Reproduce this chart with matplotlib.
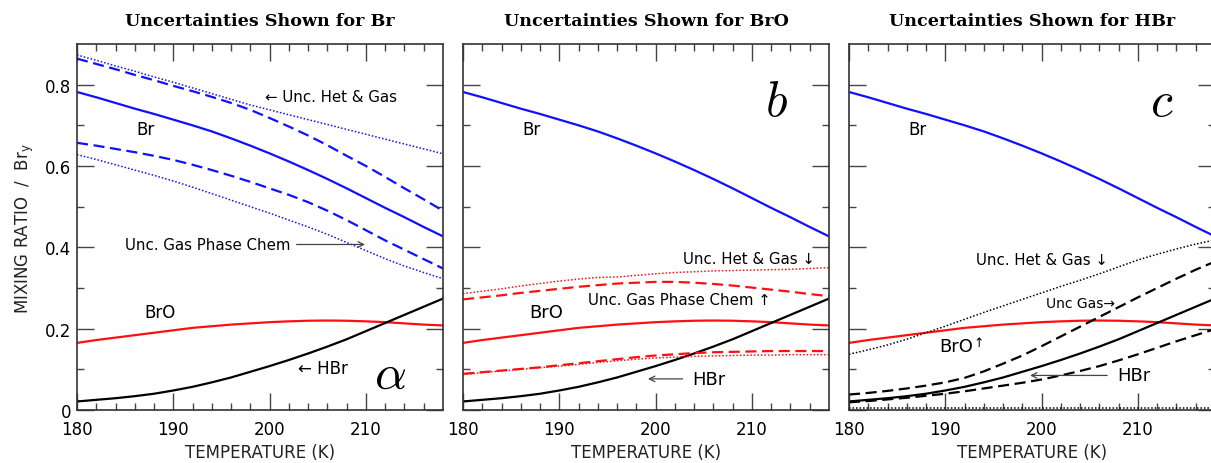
import numpy as np
import matplotlib.pyplot as plt

plt.rcParams['font.family'] = ['DejaVu Sans']
plt.rcParams['mathtext.fontset'] = 'cm'

# temperature grid (K)
temp = [180, 182, 184, 186, 188, 190, 192, 194, 196, 198,
        200, 202, 204, 206, 208, 210, 212, 214, 216, 218]

# base case
br = [0.782, 0.769, 0.755, 0.741, 0.728, 0.714, 0.700, 0.685, 0.668, 0.650,
      0.631, 0.611, 0.590, 0.568, 0.545, 0.521, 0.497, 0.474, 0.450, 0.427]
bro = [0.165, 0.172, 0.178, 0.184, 0.190, 0.196, 0.202, 0.206, 0.210, 0.213,
       0.216, 0.218, 0.2195, 0.220, 0.2195, 0.218, 0.216, 0.213, 0.210, 0.208]
hbr = [0.021, 0.025, 0.029, 0.034, 0.040, 0.048, 0.057, 0.068, 0.080, 0.094,
       0.108, 0.123, 0.139, 0.156, 0.174, 0.194, 0.214, 0.234, 0.254, 0.274]

# panel a: Br uncertainties
br_gas_hi = [0.864, 0.851, 0.838, 0.824, 0.811, 0.797, 0.784, 0.770, 0.755, 0.738,
             0.718, 0.697, 0.675, 0.651, 0.625, 0.600, 0.573, 0.545, 0.518, 0.490]
br_gas_lo = [0.657, 0.650, 0.642, 0.634, 0.625, 0.615, 0.603, 0.590, 0.576, 0.561,
             0.545, 0.529, 0.511, 0.490, 0.467, 0.442, 0.417, 0.394, 0.371, 0.348]
br_het_hi = [0.873, 0.860, 0.846, 0.833, 0.819, 0.806, 0.792, 0.778, 0.764, 0.750,
             0.738, 0.726, 0.714, 0.702, 0.690, 0.678, 0.666, 0.654, 0.642, 0.630]
br_het_lo = [0.628, 0.616, 0.603, 0.590, 0.577, 0.563, 0.548, 0.532, 0.516, 0.500,
             0.484, 0.467, 0.450, 0.432, 0.412, 0.392, 0.372, 0.354, 0.338, 0.323]

# panel b: BrO uncertainties
bro_gas_hi = [0.272, 0.277, 0.282, 0.288, 0.293, 0.298, 0.303, 0.307, 0.311, 0.313,
              0.315, 0.315, 0.313, 0.310, 0.306, 0.301, 0.296, 0.291, 0.285, 0.280]
bro_gas_lo = [0.089, 0.093, 0.097, 0.101, 0.105, 0.110, 0.115, 0.120, 0.125, 0.130,
              0.134, 0.137, 0.140, 0.142, 0.143, 0.144, 0.145, 0.145, 0.145, 0.145]
bro_het_hi = [0.286, 0.292, 0.298, 0.305, 0.311, 0.317, 0.322, 0.326, 0.327, 0.331,
              0.335, 0.338, 0.340, 0.342, 0.343, 0.344, 0.345, 0.346, 0.348, 0.350]
bro_het_lo = [0.087, 0.092, 0.096, 0.100, 0.104, 0.108, 0.112, 0.117, 0.121, 0.125,
              0.128, 0.130, 0.132, 0.133, 0.134, 0.135, 0.135, 0.136, 0.136, 0.136]

# panel c: HBr uncertainties
hbr_gas_hi = [0.038, 0.042, 0.047, 0.053, 0.060, 0.068, 0.079, 0.095, 0.114, 0.134,
              0.157, 0.181, 0.205, 0.229, 0.253, 0.277, 0.300, 0.323, 0.345, 0.365]
hbr_gas_lo = [0.019, 0.022, 0.026, 0.030, 0.035, 0.040, 0.046, 0.053, 0.060, 0.067,
              0.075, 0.085, 0.096, 0.108, 0.122, 0.137, 0.153, 0.169, 0.184, 0.199]
hbr_het_hi = [0.137, 0.148, 0.160, 0.174, 0.190, 0.206, 0.223, 0.240, 0.256, 0.272,
              0.288, 0.304, 0.319, 0.335, 0.352, 0.369, 0.383, 0.396, 0.408, 0.418]
hbr_het_lo = [0.006] * 20

titles = ['Uncertainties Shown for Br', 'Uncertainties Shown for BrO',
          'Uncertainties Shown for HBr']
letters = [r'$\alpha$', r'$b$', r'$c$']

BLUE = '#1010ff'
RED = '#ff1010'
dash = (0, (5, 2.5))
dot = (0, (1, 1.3))

fig = plt.figure(figsize=(12.11, 4.64), dpi=100)
lefts = [77, 463, 849]
axes = []
for i, l in enumerate(lefts):
    ax = fig.add_axes([l / 1211, 53 / 464, 366 / 1211, 366 / 464])
    axes.append(ax)
    ax.set_xlim(180, 218)
    ax.set_ylim(0, 0.9)
    ax.set_xticks([180, 190, 200, 210])
    ax.set_xticks(np.arange(182, 218, 2), minor=True)
    ax.set_yticks([0, 0.2, 0.4, 0.6, 0.8])
    ax.set_yticks([0.1, 0.3, 0.5, 0.7], minor=True)
    ax.tick_params(which='both', direction='in', top=True, right=True,
                   color='#444444', width=1.0, labelsize=12)
    ax.tick_params(which='major', length=12)
    ax.tick_params(which='minor', length=5)
    ax.tick_params(axis='x', pad=7)
    ax.tick_params(axis='y', pad=4)
    for s in ax.spines.values():
        s.set_color('#333333')
        s.set_linewidth(1.2)
    if i == 0:
        ax.set_yticklabels(['0', '0.2', '0.4', '0.6', '0.8'])
        ax.set_ylabel('MIXING RATIO  /  Br$_\\mathregular{y}$', fontsize=12,
                      color='#222222', labelpad=6)
    else:
        ax.set_yticklabels([])
    ax.set_xlabel('TEMPERATURE (K)', fontsize=12, color='#222222', labelpad=4)
    ax.set_title(titles[i], family='DejaVu Serif', fontweight='bold',
                 fontsize=12.6, pad=14)
    ax.text(212.5, 0.09 if i == 0 else 0.76, letters[i], fontsize=36,
            ha='center', va='center')

    ax.plot(temp, br, color=BLUE, lw=1.6)
    ax.plot(temp, bro, color=RED, lw=1.6)
    ax.plot(temp, hbr, color='black', lw=1.6)
    ax.text(186.2, 0.69, 'Br', fontsize=12, va='center')

arrow = dict(arrowstyle='->', color='#444444', lw=0.9, shrinkA=0, shrinkB=0)

# panel a
ax = axes[0]
ax.plot(temp, br_gas_hi, color=BLUE, lw=1.6, ls=dash)
ax.plot(temp, br_gas_lo, color=BLUE, lw=1.6, ls=dash)
ax.plot(temp, br_het_hi, color=BLUE, lw=1.1, ls=dot)
ax.plot(temp, br_het_lo, color=BLUE, lw=1.1, ls=dot)
ax.text(199.5, 0.77, '\u2190 Unc. Het & Gas', fontsize=10.8, va='center')
ax.text(185.0, 0.407, 'Unc. Gas Phase Chem', fontsize=10.8, va='center')
ax.annotate('', xy=(209.9, 0.407), xytext=(202.8, 0.407), arrowprops=arrow)
ax.text(187.0, 0.24, 'BrO', fontsize=12, va='center')
ax.text(202.9, 0.103, '\u2190 HBr', fontsize=12, va='center')

# panel b
ax = axes[1]
ax.plot(temp, bro_gas_hi, color=RED, lw=1.6, ls=dash)
ax.plot(temp, bro_gas_lo, color=RED, lw=1.6, ls=dash)
ax.plot(temp, bro_het_hi, color=RED, lw=1.1, ls=dot)
ax.plot(temp, bro_het_lo, color=RED, lw=1.1, ls=dot)
ax.text(202.8, 0.373, 'Unc. Het & Gas \u2193', fontsize=10.8, va='center')
ax.text(193.0, 0.272, 'Unc. Gas Phase Chem \u2191', fontsize=10.8, va='center')
ax.text(186.9, 0.24, 'BrO', fontsize=13, va='center')
ax.annotate('', xy=(199.2, 0.0765), xytext=(202.8, 0.0765), arrowprops=arrow)
ax.text(203.8, 0.0765, 'HBr', fontsize=13, va='center')

# panel c
ax = axes[2]
ax.plot(temp, hbr_gas_hi, color='black', lw=1.6, ls=dash)
ax.plot(temp, hbr_gas_lo, color='black', lw=1.6, ls=dash)
ax.plot(temp, hbr_het_hi, color='black', lw=1.1, ls=dot)
ax.plot(temp, hbr_het_lo, color='black', lw=1.1, ls=dot)
ax.text(193.2, 0.371, 'Unc. Het & Gas \u2193', fontsize=10.8, va='center')
ax.text(200.5, 0.264, 'Unc Gas\u2192', fontsize=10, va='center')
ax.text(189.4, 0.157, 'BrO', fontsize=13, va='center')
ax.text(192.9, 0.166, '\u2191', fontsize=9, va='center')
ax.annotate('', xy=(198.8, 0.085), xytext=(206.8, 0.085), arrowprops=arrow)
ax.text(207.9, 0.085, 'HBr', fontsize=13, va='center')

fig.savefig('out.png', dpi=100)
